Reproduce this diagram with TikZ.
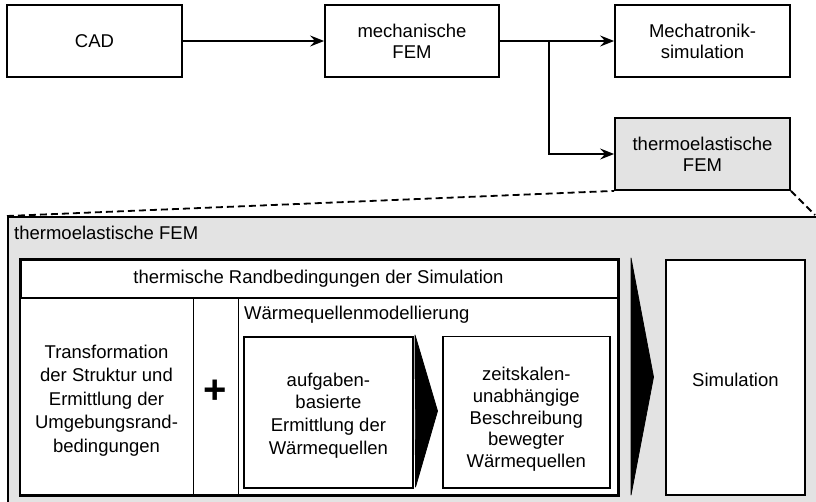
\documentclass[tikz,border=0pt]{standalone}
\usepackage{fontspec}
\setmainfont{Liberation Sans}
\usetikzlibrary{arrows.meta}
\definecolor{panelgray}{RGB}{227,227,227}
\tikzset{
  txt/.style={font=\fontsize{18.5}{23.5}\selectfont, align=center},
  tight/.style={font=\fontsize{18.5}{21}\selectfont},
  box/.style={draw, line width=1.8pt, fill=white, inner sep=0pt, txt},
  thinbox/.style={draw, line width=1.1pt, fill=white, inner sep=0pt, txt},
  label/.style={txt, inner sep=0pt},
  flow/.style={line width=1.8pt, -{Stealth[length=14pt,width=11pt,inset=5pt]}},
  zoomline/.style={line width=1.8pt, dash pattern=on 7pt off 4pt},
  chevron/.style={fill=black, draw=black, line width=0.8pt, line join=round}
}
\begin{document}
\begin{tikzpicture}[x=1pt,y=-1pt]
\useasboundingbox (0,0) rectangle (816,502);
\clip (0,0) rectangle (816,502);
\fill[white] (0,0) rectangle (816,502);

% process chain
\node[box, minimum width=175pt, minimum height=72pt] (cad) at (94.5,41) {CAD};
\node[box, tight, minimum width=174pt, minimum height=72pt] (mech) at (412,41) {mechanische\\FEM};
\node[box, tight, minimum width=175pt, minimum height=72pt] (mecha) at (702.5,41) {Mechatronik-\\simulation};
\node[box, tight, fill=panelgray, minimum width=175pt, minimum height=72pt] (therm) at (702.5,154) {thermoelastische\\FEM};
\coordinate (split) at (549,41);

\draw[flow] (cad.east) -- (mech.west);
\draw[flow] (mech.east) -- (mecha.west);
\draw[flow] (split) |- (therm.west);

% detail panel
\node[draw, line width=1.8pt, fill=panelgray, minimum width=830pt, minimum height=310pt, inner sep=0pt, anchor=north west] (panel) at (7,216) {};
\node[label, anchor=west] (paneltitle) at (14,233) {thermoelastische FEM};
\draw[zoomline] (panel.north west) -- (therm.south west);
\draw[zoomline] (therm.south east) -- (815,215);

% boundary conditions block
\node[box, minimum width=597pt, minimum height=235pt, anchor=north west] (bc) at (20,259) {};
\node[label] (bctitle) at (318.5,279) {thermische Randbedingungen der Simulation};
\node[thinbox, minimum width=173pt, minimum height=196pt, anchor=north west] (trafo) at (20,298) {};
\node[label] (trafotext) at (106.5,400.3)
  {Transformation\\der Struktur und\\Ermittlung der\\Umgebungsrand-\\bedingungen};
\node[thinbox, minimum width=379pt, minimum height=196pt, anchor=north west] (wq) at (238,298) {};
\draw[line width=1.8pt] (bc.north west) rectangle (bc.south east);
\draw[line width=1.8pt] (trafo.north west) -- (wq.north east);
\node[label, anchor=west] (wqtitle) at (244,315) {Wärmequellenmodellierung};
\node[box, minimum width=169pt, minimum height=151pt, anchor=north west] (aufg) at (243,336) {};
\node[label, font=\fontsize{18.5}{22.7}\selectfont] (aufgtext) at (aufg.center) [yshift=-3pt]
  {aufgaben-\\basierte\\Ermittlung der\\Wärmequellen};
\node[box, line width=1.5pt, minimum width=167pt, minimum height=151pt, anchor=north west] (zeit) at (442,336) {};
\node[label, font=\fontsize{18.5}{21.8}\selectfont] (zeittext) at (zeit.center) [yshift=-7pt]
  {zeitskalen-\\unabhängige\\Beschreibung\\bewegter\\Wärmequellen};
\node[font=\bfseries\fontsize{40}{40}\selectfont, inner sep=0pt] (plus) at (215.5,392) {+};

% flow chevrons
\draw[chevron] (415,335) -- (437.5,411) -- (415.5,487) -- cycle;
\draw[chevron] (631,258) -- (653.5,377) -- (631,495) -- cycle;

% simulation
\node[box, minimum width=139pt, minimum height=235pt, anchor=north west] (sim) at (665,259) {};
\node[label] (simtext) at (sim.center) [yshift=-2pt] {Simulation};
\end{tikzpicture}
\end{document}
